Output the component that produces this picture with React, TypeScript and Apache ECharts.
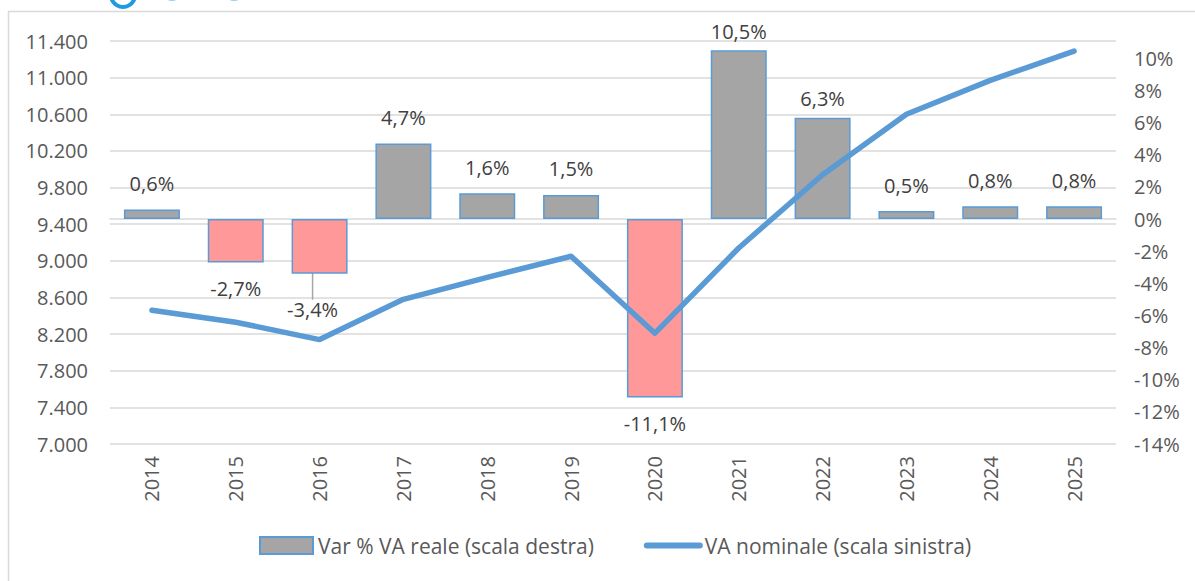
import React, { useEffect, useRef } from 'react';
import * as echarts from 'echarts';

const years = ['2014', '2015', '2016', '2017', '2018', '2019', '2020', '2021', '2022', '2023', '2024', '2025'];
const realGrowth = [0.6, -2.7, -3.4, 4.7, 1.6, 1.5, -11.1, 10.5, 6.3, 0.5, 0.8, 0.8];
const nominalVA = [8460, 8330, 8140, 8580, 8820, 9050, 8210, 9140, 9940, 10600, 10970, 11290];
const seriesNames = ['Var % VA reale (scala destra)', 'VA nominale (scala sinistra)'];

const FONT = '"Open Sans", sans-serif';
const BLUE = '#5b9bd5';
const GRAY = '#a5a5a5';
const PINK = '#ff9999';

function fmtThousands(v: number): string {
  return String(Math.round(v)).replace(/\B(?=(\d{3})+(?!\d))/g, '.');
}

export default function App() {
  const ref = useRef<HTMLDivElement>(null);
  useEffect(() => {
    if (!ref.current) return;
    const chart = echarts.init(ref.current, undefined, { renderer: 'svg' });
    const barData = realGrowth.map((v, i) => {
      const item: any = {
        value: v,
        itemStyle: { color: v < 0 ? PINK : GRAY },
        label: { position: v < 0 ? 'bottom' : 'top' },
      };
      if (i === 7 || i === 8) item.label.distance = 9;
      if (i === 2) {
        item.labelLine = { show: true, lineStyle: { color: '#a6a6a6', width: 1.5 } };
      }
      return item;
    });
    chart.setOption({
      animation: false,
      backgroundColor: '#ffffff',
      textStyle: { fontFamily: FONT },
      grid: { left: 110, right: 79, top: 41, bottom: 137, containLabel: false },
      legend: {
        bottom: 20,
        left: 254,
        itemWidth: 53,
        itemHeight: 17,
        itemGap: 50,
        textStyle: { fontFamily: FONT, fontSize: 21, color: '#595959' },
        data: [
          { name: seriesNames[0], icon: 'rect' },
          {
            name: seriesNames[1],
            itemStyle: { opacity: 0 },
            lineStyle: { color: BLUE, width: 6, cap: 'round' },
          },
        ],
      },
      xAxis: {
        type: 'category',
        data: years,
        boundaryGap: true,
        axisLine: { show: true, lineStyle: { color: '#d9d9d9', width: 1.5 } },
        axisTick: { show: false },
        axisLabel: { rotate: 90, margin: 12, fontSize: 20, color: '#595959', fontFamily: FONT },
      },
      yAxis: [
        {
          type: 'value',
          min: 7000,
          max: 11400,
          interval: 400,
          position: 'left',
          axisLine: { show: false },
          axisTick: { show: false },
          splitLine: { show: true, lineStyle: { color: '#d9d9d9', width: 1.5 } },
          axisLabel: {
            margin: 22,
            fontSize: 20,
            color: '#595959',
            fontFamily: FONT,
            formatter: (v: number) => fmtThousands(v),
          },
        },
        {
          type: 'value',
          min: -14,
          max: 11.08,
          interval: 2,
          position: 'right',
          axisLine: { show: false },
          axisTick: { show: false },
          splitLine: { show: false },
          axisLabel: {
            margin: 18,
            fontSize: 20,
            color: '#595959',
            fontFamily: FONT,
            formatter: (v: number) => (Number.isInteger(v) && v % 2 === 0 ? v + '%' : ''),
          },
        },
      ],
      series: [
        {
          name: seriesNames[0],
          type: 'bar',
          yAxisIndex: 1,
          barWidth: 56,
          data: barData,
          itemStyle: { color: GRAY, borderColor: BLUE, borderWidth: 1.5 },
          label: {
            show: true,
            distance: 16,
            fontSize: 20,
            color: '#404040',
            fontFamily: FONT,
            formatter: (p: any) => p.value.toFixed(1).replace('.', ',') + '%',
          },
          labelLayout: (params: any) => (params.dataIndex === 2 ? { dx: -7, dy: 10 } : {}),
          z: 2,
        },
        {
          name: seriesNames[1],
          type: 'line',
          yAxisIndex: 0,
          data: nominalVA,
          symbol: 'none',
          lineStyle: { color: BLUE, width: 5.5, cap: 'round', join: 'round' },
          itemStyle: { color: BLUE },
          z: 3,
        },
      ],
      graphic: [
        {
          type: 'polyline',
          shape: { points: [[8.5, 581], [8.5, 11.5], [1195, 11.5]] },
          style: { stroke: '#d9d9d9', lineWidth: 1.5, fill: 'none' },
          silent: true,
        },
        {
          type: 'ring',
          shape: { cx: 123, cy: -5, r: 14, r0: 10 },
          style: { fill: '#1f9be1' },
          silent: true,
        },
        {
          type: 'ring',
          shape: { cx: 172, cy: -9, r: 10, r0: 7 },
          style: { fill: '#8fd0f0' },
          silent: true,
        },
        {
          type: 'ring',
          shape: { cx: 234, cy: -9, r: 10, r0: 7 },
          style: { fill: '#8fd0f0' },
          silent: true,
        },
      ],
    });
    return () => chart.dispose();
  }, []);
  return (
    <div
      ref={ref}
      style={{ position: 'fixed', left: 0, top: 0, width: 1195, height: 581, background: '#fff' }}
    />
  );
}
